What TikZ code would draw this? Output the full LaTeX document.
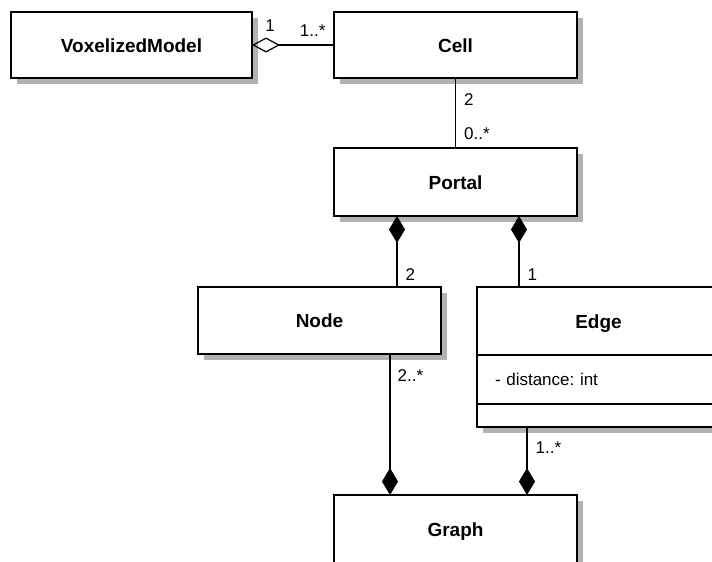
\documentclass[tikz,border=0pt]{standalone}
\usepackage{fontspec}
\setmainfont{Liberation Sans}
\usetikzlibrary{arrows.meta,positioning,shadows}
\frenchspacing

\begin{document}
\begin{tikzpicture}[
  x=1pt, y=-1pt,
  line/.style={draw=black, line width=1.6pt},
  conn/.style={draw=black, line width=1.2pt},
  cls/.style={line, fill=white, minimum width=243pt, minimum height=67pt, inner sep=0pt, outer sep=0pt,
    text height=14.5pt, text depth=0pt,
    font=\fontsize{19}{22}\selectfont\bfseries,
    drop shadow={shadow xshift=6pt, shadow yshift=-6pt, fill=black!30, opacity=1}},
  attrbox/.style={cls, font=\fontsize{17}{20}\selectfont, text height=11pt, text width=207pt, align=left},
  lbl/.style={inner sep=0pt, font=\fontsize{17}{20}\selectfont},
  aggr/.style={conn, {Diamond[open, length=28pt, width=15pt]}-},
  compo/.style={conn, {Diamond[length=27pt, width=16pt]}-},
  compoend/.style={conn, -{Diamond[length=27pt, width=16pt]}}
]
\useasboundingbox (0,0) rectangle (712,562);
\clip (0,0) rectangle (712,562);

\node[cls, minimum width=241pt, minimum height=66pt] (vox) at (131.5,45) {VoxelizedModel};
\node[cls, minimum height=66pt] (cell) at (455.5,45) {Cell};
\node[cls, minimum height=68pt, below=70pt of cell] (portal) {Portal};

\node[cls] (node) at (319.5,320.5) {Node};
\node[cls, minimum height=68pt, right=36pt of node.north east, anchor=north west] (edge) {Edge};
\node[attrbox, minimum height=49pt, below=0pt of edge] (edgeattr) {- distance: int};
\node[cls, minimum height=23pt, text height=0pt, below=0pt of edgeattr] (edgeops) {};

\node[cls, minimum height=68pt] (graph) at (455.5,529) {Graph};

% associations
\draw[aggr] (vox.east) -- node[lbl, pos=0.22, above=13pt] (m1) {1}
  node[lbl, pos=0.74, above=8pt] (m2) {1..*} (cell.west);
\draw[conn] (cell.south) -- node[lbl, pos=0.31, right=8pt] (c2) {2}
  node[lbl, pos=0.8, right=8pt] (p0) {0..*} (portal.north);

% composition
\draw[compo] ([xshift=-58.5pt]portal.south) -- node[lbl, pos=0.82, right=8pt] (n2) {2} ([xshift=77.5pt]node.north);
\draw[compo] ([xshift=63.5pt]portal.south) -- node[lbl, pos=0.82, right=8pt] (e1) {1} ([xshift=-79.5pt]edge.north);
\draw[compoend] ([xshift=70.5pt]node.south) -- node[lbl, pos=0.156, right=7pt] (g2) {2..*} ([xshift=-65.5pt]graph.north);
\draw[compoend] ([xshift=-71.5pt]edgeops.south) -- node[lbl, pos=0.31, right=8pt] (g1) {1..*} ([xshift=71.5pt]graph.north);

\end{tikzpicture}
\end{document}
